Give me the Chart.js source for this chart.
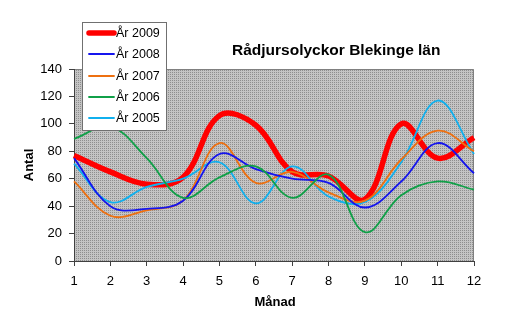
<!DOCTYPE html>
<html>
<head>
<meta charset="utf-8">
<script src="https://cdn.jsdelivr.net/npm/chart.js@4.4.0/dist/chart.umd.min.js"></script>
<style>
  html, body { margin: 0; padding: 0; background: #fff; }
  #wrap { width: 516px; height: 332px; }
</style>
</head>
<body>
<div id="wrap"><canvas id="olyckor" width="516" height="332"></canvas></div>
<script>
// Viltolyckor med rådjur per månad, Blekinge län
const months = ['1', '2', '3', '4', '5', '6', '7', '8', '9', '10', '11', '12'];
const year2009 = [77, 65, 56, 61, 106, 99, 65, 62, 45, 100, 75, 90];
const year2008 = [75, 40, 38, 44, 78, 67, 60, 57, 39, 58, 86, 64];
const year2007 = [58, 33, 37, 44, 86, 57, 65, 50, 44, 74, 95, 80];
const year2006 = [89, 98, 75, 46, 61, 69, 46, 63, 21, 48, 58, 52];
const year2005 = [71, 43, 54, 60, 72, 42, 69, 47, 43, 72, 117, 78];
const yTicks = [0, 20, 40, 60, 80, 100, 120, 140];

const FONT = 'Liberation Sans, Arial, sans-serif';

function makeSeries(label, data, color, width, order) {
    return {
        label: label,
        data: data,
        borderColor: color,
        backgroundColor: color,
        borderWidth: width,
        pointRadius: 0,
        tension: 0.38,
        fill: false,
        order: order
    };
}

// grå prickig bakgrund i plotytan
function dottedPattern(ctx) {
    const c = document.createElement('canvas');
    c.width = 2;
    c.height = 2;
    const p = c.getContext('2d');
    p.fillStyle = '#c4c4c4';
    p.fillRect(0, 0, 2, 2);
    p.fillStyle = '#8e8e8e';
    p.fillRect(0, 0, 1, 1);
    return ctx.createPattern(c, 'repeat');
}

const plotBackground = {
    id: 'plotBackground',
    beforeDraw(chart) {
        const { ctx, chartArea: a } = chart;
        ctx.save();
        ctx.fillStyle = dottedPattern(ctx);
        ctx.fillRect(a.left, a.top, a.right - a.left, a.bottom - a.top);
        ctx.strokeStyle = '#808080';
        ctx.lineWidth = 1;
        ctx.beginPath();
        ctx.moveTo(a.left, a.top + 0.5);
        ctx.lineTo(a.right - 0.5, a.top + 0.5);
        ctx.lineTo(a.right - 0.5, a.bottom);
        ctx.stroke();
        ctx.restore();
    }
};

// rubrik, axeltitlar och förklaring ritas för hand
const annotations = {
    id: 'annotations',
    afterDraw(chart) {
        const { ctx } = chart;
        ctx.save();
        ctx.fillStyle = '#000';
        ctx.textBaseline = 'middle';

        ctx.font = 'bold 15.5px ' + FONT;
        ctx.textAlign = 'left';
        ctx.fillText('Rådjursolyckor Blekinge län', 232, 51);

        ctx.font = 'bold 13px ' + FONT;
        ctx.textAlign = 'center';
        ctx.fillText('Månad', 275, 302);

        ctx.save();
        ctx.translate(29, 165);
        ctx.rotate(-Math.PI / 2);
        ctx.fillText('Antal', 0, 0);
        ctx.restore();

        // förklaring
        const box = { x: 82.5, y: 22.5, w: 84, h: 108 };
        ctx.fillStyle = '#fff';
        ctx.fillRect(box.x, box.y, box.w, box.h);
        ctx.strokeStyle = '#707070';
        ctx.lineWidth = 1;
        ctx.strokeRect(box.x, box.y, box.w, box.h);

        ctx.font = '12.5px ' + FONT;
        ctx.textAlign = 'left';
        const rows = [33, 54, 76, 97, 118];
        const legendOrder = chart.data.datasets.slice().sort((a, b) => b.legendRank - a.legendRank);
        legendOrder.forEach((ds, i) => {
            const y = rows[i];
            ctx.strokeStyle = ds.borderColor;
            ctx.lineWidth = ds.borderWidth;
            ctx.lineCap = 'round';
            ctx.beginPath();
            ctx.moveTo(89, y);
            ctx.lineTo(114, y);
            ctx.stroke();
            ctx.fillStyle = '#000';
            ctx.fillText(ds.label, 116, y + 1);
        });
        ctx.restore();
    }
};

const datasets = [
    makeSeries('År 2009', year2009, '#ff0000', 5.5, 6),
    makeSeries('År 2008', year2008, '#1515ee', 1.8, 2),
    makeSeries('År 2007', year2007, '#ee7010', 1.8, 3),
    makeSeries('År 2006', year2006, '#10a048', 1.8, 1),
    makeSeries('År 2005', year2005, '#10b0ee', 1.8, 4)
];
datasets.forEach((ds, i) => { ds.legendRank = datasets.length - i; });

new Chart(document.getElementById('olyckor'), {
    type: 'line',
    data: { labels: months, datasets: datasets },
    options: {
        responsive: false,
        animation: false,
        layout: { padding: { left: 0, top: 69, right: 42, bottom: 0 } },
        plugins: {
            legend: { display: false },
            title: { display: false },
            tooltip: { enabled: false }
        },
        scales: {
            x: {
                offset: false,
                grid: {
                    drawOnChartArea: false,
                    drawTicks: true,
                    tickLength: 5,
                    color: '#404040'
                },
                border: { color: '#404040', width: 1 },
                ticks: {
                    color: '#000',
                    font: { family: FONT, size: 13 },
                    padding: 8,
                    maxRotation: 0,
                    autoSkip: false
                },
                afterFit(scale) { scale.height = 71; }
            },
            y: {
                min: 0,
                max: 140,
                afterBuildTicks(scale) {
                    scale.ticks = yTicks.map(v => ({ value: v }));
                },
                grid: {
                    drawOnChartArea: false,
                    drawTicks: true,
                    tickLength: 5,
                    color: '#404040'
                },
                border: { color: '#404040', width: 1 },
                ticks: {
                    color: '#000',
                    font: { family: FONT, size: 13 },
                    padding: 7
                },
                afterFit(scale) { scale.width = 74; }
            }
        }
    },
    plugins: [plotBackground, annotations]
});
</script>
</body>
</html>
